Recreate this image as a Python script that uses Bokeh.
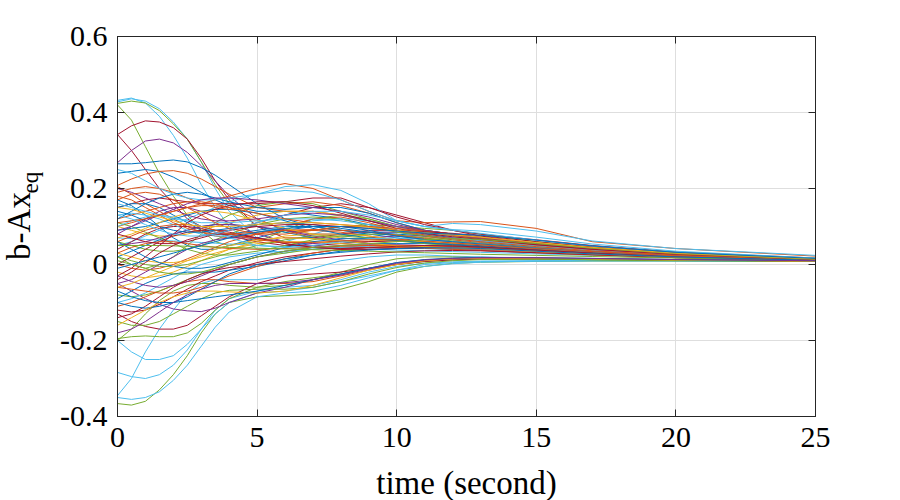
import math
from bokeh.plotting import figure
from bokeh.models import Range1d, FixedTicker, LinearAxis, Label
from bokeh.embed import file_html
from bokeh.resources import INLINE

# time samples (seconds)
T = [0, 0.5, 1, 1.5, 2, 2.5, 3, 3.5, 4, 5, 6, 7, 8, 9, 10, 11, 12, 13, 15, 17, 20, 25]

# ---- trajectories (values at the times in T) ----
s01 = [.432, .438, .425, .39, .34, .28, .21, .15, .10, .04, .03, .045, .07, .085, .085, .075, .065, .055, .04, .03, .02, .012]
s02 = [.428, .436, .43, .41, .375, .33, .27, .2, .14, .07, .06, .08, .1, .1, .09, .08, .07, .06, .045, .035, .024, .014]
s03 = [.424, .43, .425, .405, .37, .33, .27, .21, .16, .1, .085, .09, .1, .105, .1, .095, .09, .08, .06, .045, .03, .016]
s04 = [.42, .38, .31, .24, .18, .13, .09, .06, .05, .06, .09, .12, .13, .12, .1, .09, .08, .07, .05, .04, .028, .015]
s05 = [.342, .365, .378, .375, .36, .33, .28, .22, .17, .1, .07, .07, .08, .09, .09, .085, .08, .07, .055, .04, .028, .014]
s06 = [.342, .3, .25, .2, .16, .12, .1, .09, .09, .11, .13, .15, .16, .15, .13, .11, .09, .075, .055, .04, .026, .013]
s07 = [.268, .3, .325, .33, .32, .295, .26, .22, .18, .12, .09, .08, .08, .085, .085, .08, .07, .06, .045, .035, .025, .013]
s08 = [.265, .265, .268, .272, .275, .27, .255, .235, .21, .16, .12, .1, .09, .085, .08, .075, .07, .062, .048, .037, .025, .013]
s09 = [.24, .245, .25, .245, .23, .21, .19, .17, .155, .14, .14, .13, .12, .105, .09, .08, .07, .06, .047, .036, .024, .013]
s10 = [.208, .225, .238, .245, .247, .24, .225, .205, .185, .15, .14, .14, .13, .115, .1, .09, .08, .07, .052, .04, .027, .014]
s11 = [.205, .185, .16, .14, .12, .1, .085, .075, .07, .08, .1, .12, .125, .11, .09, .075, .065, .058, .045, .035, .024, .013]
s12 = [.1, .11, .12, .13, .14, .15, .16, .17, .18, .2, .213, .2, .17, .14, .115, .11, .112, .113, .095, .06, .042, .022]
s13 = [.05, .06, .075, .09, .105, .12, .135, .15, .165, .185, .205, .21, .195, .16, .115, .1, .108, .105, .088, .062, .042, .024]
s14 = [.15, .16, .17, .175, .17, .165, .16, .16, .16, .16, .165, .175, .175, .15, .125, .105, .09, .08, .065, .05, .033, .017]
s15 = [.02, 0, -.01, 0, .02, .05, .08, .11, .13, .155, .165, .16, .14, .12, .1, .085, .075, .068, .055, .043, .03, .016]
s16 = [-.366, -.37, -.36, -.33, -.29, -.24, -.18, -.13, -.1, -.085, -.082, -.078, -.065, -.045, -.02, -.005, .003, .006, .008, .009, .009, .008]
s17 = [-.345, -.3, -.23, -.17, -.12, -.075, -.05, -.04, -.04, -.04, -.03, -.01, .01, .02, .025, .025, .022, .02, .015, .012, .01, .008]
s18 = [-.35, -.355, -.35, -.335, -.305, -.265, -.215, -.165, -.125, -.085, -.075, -.07, -.055, -.035, -.015, 0, .005, .008, .009, .01, .01, .008]
s19 = [-.284, -.295, -.3, -.29, -.265, -.225, -.17, -.12, -.09, -.07, -.06, -.055, -.04, -.02, -.005, .003, .007, .009, .01, .01, .01, .008]
s20 = [-.2, -.23, -.25, -.25, -.24, -.21, -.17, -.13, -.1, -.075, -.07, -.06, -.045, -.03, -.015, -.005, .002, .006, .009, .01, .01, .008]
s21 = [-.2, -.17, -.13, -.095, -.07, -.055, -.05, -.05, -.055, -.06, -.055, -.04, -.02, 0, .015, .02, .02, .018, .015, .012, .01, .008]
s22 = [-.195, -.19, -.188, -.19, -.19, -.18, -.155, -.12, -.09, -.06, -.045, -.035, -.025, -.01, 0, .008, .012, .014, .014, .013, .011, .009]
s23 = [-.13, -.15, -.163, -.17, -.17, -.16, -.135, -.11, -.085, -.05, -.03, -.025, -.02, -.01, 0, .008, .012, .014, .015, .014, .012, .009]
s24 = [-.05, -.07, -.09, -.105, -.117, -.122, -.124, -.115, -.1, -.075, -.06, -.04, -.025, -.01, .005, .012, .015, .016, .016, .015, .013, .01]
s25 = [-.11, -.1, -.085, -.07, -.055, -.045, -.04, -.04, -.045, -.05, -.05, -.045, -.03, -.015, 0, .01, .015, .017, .016, .014, .012, .009]
s26 = [.15, .16, .16, .15, .13, .11, .09, .08, .08, .09, .1, .1, .09, .08, .07, .06, .055, .05, .04, .032, .022, .012]
s27 = [.17, .155, .13, .1, .07, .05, .04, .04, .05, .07, .09, .1, .1, .09, .075, .065, .06, .055, .045, .035, .024, .013]
s28 = [.12, .13, .14, .15, .16, .165, .165, .16, .15, .12, .09, .07, .06, .06, .065, .07, .07, .065, .05, .038, .026, .014]
s29 = [.1, .09, .08, .075, .075, .08, .09, .1, .11, .13, .14, .14, .13, .115, .1, .085, .075, .065, .05, .038, .026, .014]
s30 = [.08, .1, .12, .14, .15, .15, .14, .125, .11, .08, .06, .055, .06, .07, .075, .075, .07, .062, .048, .036, .024, .013]
s31 = [.06, .05, .04, .035, .035, .04, .05, .065, .08, .105, .12, .125, .12, .1, .085, .075, .068, .06, .047, .036, .024, .013]
s32 = [.07, .068, .066, .064, .062, .06, .058, .056, .054, .05, .047, .044, .042, .04, .038, .036, .034, .032, .028, .024, .019, .013]
s33 = [.04, .06, .08, .095, .1, .1, .095, .085, .075, .06, .05, .05, .055, .06, .062, .06, .055, .05, .04, .032, .022, .012]
s34 = [.02, .035, .05, .065, .08, .09, .1, .105, .105, .1, .085, .07, .06, .055, .055, .055, .052, .048, .04, .032, .022, .012]
s35 = [0, -.01, -.015, -.01, 0, .015, .03, .045, .06, .08, .09, .09, .085, .075, .065, .058, .052, .047, .038, .03, .021, .012]
s36 = [-.02, -.03, -.035, -.03, -.02, -.005, .01, .025, .04, .06, .075, .08, .08, .075, .065, .056, .05, .045, .036, .029, .02, .012]
s37 = [-.05, -.04, -.02, 0, .02, .04, .055, .065, .07, .07, .06, .05, .045, .045, .048, .05, .048, .044, .036, .029, .02, .012]
s38 = [-.08, -.085, -.08, -.07, -.055, -.04, -.025, -.01, 0, .02, .03, .04, .045, .05, .05, .048, .045, .042, .035, .028, .02, .011]
s39 = [-.1, -.09, -.075, -.055, -.035, -.015, 0, .01, .02, .03, .035, .04, .045, .048, .05, .048, .045, .042, .035, .028, .02, .011]
s40 = [-.12, -.125, -.12, -.105, -.085, -.065, -.045, -.03, -.015, .005, .02, .03, .04, .045, .045, .045, .042, .04, .034, .027, .019, .011]
s41 = [-.09, -.07, -.05, -.035, -.025, -.02, -.02, -.02, -.015, -.005, .01, .025, .035, .04, .042, .042, .04, .037, .031, .026, .018, .011]
s42 = [-.06, -.065, -.07, -.075, -.075, -.07, -.06, -.045, -.03, -.005, .015, .03, .04, .045, .045, .043, .04, .037, .031, .025, .018, .011]
s43 = [.03, .02, .01, .005, .005, .01, .02, .03, .04, .055, .06, .06, .055, .05, .047, .045, .043, .04, .034, .028, .02, .011]
s44 = [.05, .055, .06, .07, .08, .09, .1, .105, .105, .1, .09, .075, .065, .055, .05, .046, .043, .04, .034, .028, .02, .011]
s45 = [.11, .1, .085, .07, .055, .04, .03, .025, .025, .035, .05, .065, .075, .08, .078, .07, .062, .055, .043, .034, .023, .012]
s46 = [.13, .135, .13, .12, .105, .09, .08, .075, .075, .085, .1, .115, .12, .115, .1, .085, .072, .062, .048, .037, .025, .013]
s47 = [0, .02, .04, .06, .075, .085, .09, .09, .085, .07, .055, .045, .04, .04, .042, .045, .046, .045, .038, .031, .021, .012]
s48 = [.09, .095, .1, .11, .12, .13, .14, .145, .145, .135, .115, .095, .08, .07, .063, .058, .055, .051, .042, .034, .023, .012]
s49 = [.18, .17, .15, .13, .11, .095, .085, .08, .08, .085, .09, .092, .09, .085, .077, .068, .06, .054, .043, .034, .023, .012]
s50 = [.07, .08, .095, .11, .125, .135, .14, .14, .135, .115, .095, .08, .07, .065, .062, .06, .056, .052, .042, .034, .023, .012]
s51 = [-.03, -.045, -.055, -.06, -.055, -.045, -.03, -.015, 0, .02, .035, .045, .05, .052, .052, .05, .047, .043, .036, .029, .02, .011]
s52 = [.02, .01, 0, -.005, -.005, 0, .01, .02, .03, .05, .065, .075, .075, .07, .062, .055, .05, .046, .038, .03, .021, .012]
s53 = [.16, .15, .14, .13, .12, .115, .11, .11, .11, .115, .12, .12, .115, .105, .09, .078, .068, .06, .047, .036, .025, .013]
s54 = [-.14, -.13, -.11, -.085, -.06, -.04, -.025, -.015, -.008, 0, .008, .015, .022, .028, .033, .036, .037, .036, .031, .026, .018, .011]
s55 = [.06, .04, .02, .005, -.005, -.01, -.01, -.005, .005, .025, .045, .06, .068, .068, .063, .057, .052, .047, .038, .03, .021, .012]
s56 = [.03, .045, .055, .06, .06, .055, .05, .045, .042, .04, .042, .045, .048, .05, .05, .048, .046, .043, .036, .029, .02, .011]
s57 = [-.06, -.05, -.035, -.02, -.005, .01, .025, .04, .05, .065, .07, .068, .062, .055, .05, .047, .044, .041, .034, .028, .02, .011]
s58 = [.2, .19, .175, .16, .145, .13, .12, .115, .115, .12, .13, .135, .13, .115, .1, .087, .077, .068, .052, .04, .027, .014]
s59 = [.05, .05, .05, .05, .049, .048, .047, .046, .045, .043, .041, .039, .037, .035, .033, .031, .029, .027, .024, .021, .017, .012]
s60 = [.1, .115, .125, .13, .125, .115, .1, .085, .07, .05, .045, .05, .06, .068, .07, .066, .06, .054, .043, .034, .023, .012]
s61 = [-.04, -.02, .005, .03, .05, .065, .075, .08, .08, .07, .055, .045, .042, .044, .048, .05, .049, .046, .038, .03, .021, .012]
s62 = [.14, .13, .115, .1, .09, .085, .085, .09, .095, .105, .11, .105, .095, .085, .075, .066, .06, .054, .043, .034, .023, .012]
s63 = [.17, .185, .19, .185, .17, .15, .13, .11, .095, .08, .08, .09, .1, .1, .09, .078, .068, .06, .047, .036, .025, .013]
s64 = [.06, .075, .09, .1, .105, .105, .1, .09, .08, .065, .058, .058, .062, .065, .065, .062, .057, .052, .042, .034, .023, .012]
s65 = [-.1, -.11, -.115, -.11, -.1, -.085, -.065, -.045, -.025, 0, .015, .025, .032, .038, .042, .044, .044, .042, .035, .028, .02, .011]
s66 = [.19, .2, .205, .2, .19, .175, .16, .15, .145, .15, .16, .165, .155, .135, .11, .09, .078, .07, .055, .042, .028, .014]
s67 = [.12, .14, .16, .175, .185, .19, .185, .175, .165, .15, .145, .15, .15, .135, .11, .09, .08, .072, .056, .042, .028, .014]
s68 = [.25, .24, .22, .2, .185, .175, .17, .17, .175, .185, .195, .19, .17, .14, .115, .1, .09, .082, .064, .048, .032, .016]
s69 = [.09, .1, .115, .13, .145, .16, .17, .175, .175, .17, .16, .15, .14, .125, .105, .09, .08, .071, .055, .042, .028, .014]
s70 = [-.03, -.01, .02, .05, .08, .11, .13, .145, .155, .165, .165, .155, .135, .115, .095, .082, .073, .066, .052, .04, .027, .014]
s71 = [-.15, -.16, -.16, -.15, -.13, -.11, -.09, -.075, -.068, -.065, -.065, -.06, -.045, -.025, -.008, .004, .01, .013, .014, .013, .011, .009]
s72 = [-.16, -.14, -.12, -.1, -.085, -.075, -.07, -.07, -.072, -.075, -.07, -.055, -.035, -.015, 0, .01, .015, .017, .017, .015, .012, .009]
s73 = [-.07, -.085, -.095, -.1, -.1, -.095, -.09, -.085, -.08, -.07, -.055, -.04, -.025, -.01, .005, .013, .017, .019, .018, .016, .013, .01]
s74 = [-.18, -.17, -.15, -.125, -.1, -.08, -.065, -.055, -.05, -.05, -.048, -.04, -.028, -.012, .003, .012, .016, .018, .018, .016, .013, .01]
s75 = [.11, .115, .12, .13, .14, .15, .155, .155, .15, .135, .12, .11, .105, .1, .095, .088, .08, .072, .056, .043, .028, .014]
s76 = [.08, .07, .06, .055, .055, .06, .07, .08, .09, .1, .105, .105, .1, .095, .09, .086, .082, .076, .06, .046, .03, .015]
s77 = [.13, .12, .105, .09, .08, .075, .075, .08, .09, .11, .13, .14, .14, .13, .115, .1, .092, .088, .072, .054, .035, .017]
s78 = [.01, 0, -.01, -.02, -.025, -.025, -.02, -.01, 0, .02, .035, .045, .05, .055, .06, .065, .068, .066, .055, .043, .029, .014]
s79 = [.15, .145, .135, .125, .115, .105, .1, .1, .1, .105, .11, .11, .105, .098, .09, .084, .078, .072, .058, .045, .03, .015]
s80 = [-.01, 0, .01, .02, .03, .04, .05, .06, .07, .085, .095, .1, .1, .095, .088, .083, .08, .077, .064, .049, .032, .016]

x_ticks = [0, 5, 10, 15, 20, 25]
x_tick_labels = ["0", "5", "10", "15", "20", "25"]
y_ticks = [-0.4, -0.2, 0, 0.2, 0.4, 0.6]
y_tick_labels = ["-0.4", "-0.2", "0", "0.2", "0.4", "0.6"]

# ---- styling ----
C = {"b": "#0072BD", "o": "#D95319", "y": "#EDB120", "p": "#7E2F8E",
     "g": "#77AC30", "c": "#4DBEEE", "r": "#A2142F"}
series = [s01, s02, s03, s04, s05, s06, s07, s08, s09, s10, s11, s12, s13,
          s14, s15, s16, s17, s18, s19, s20, s21, s22, s23, s24, s25, s26,
          s27, s28, s29, s30, s31, s32, s33, s34, s35, s36, s37, s38, s39,
          s40, s41, s42, s43, s44, s45, s46, s47, s48, s49, s50, s51, s52,
          s53, s54, s55, s56, s57, s58, s59, s60, s61, s62, s63, s64, s65,
          s66, s67, s68, s69, s70, s71, s72, s73, s74, s75, s76, s77, s78,
          s79, s80]
color_keys = ("ccggrrpbbooocrg" + "gccccggrpob"
              + "boypgcrboypgcrboypgcrboypgcrboypgcrbo" + "ob"
              + "obcprgybporcgyb")
for s in series:
    assert len(s) == len(T)

FONT = "Liberation Serif"
AX = "#262626"

p = figure(width=900, height=500, output_backend="svg", toolbar_location=None,
           x_range=Range1d(0, 25), y_range=Range1d(-0.4, 0.6),
           min_border_left=117, min_border_right=85, min_border_top=36,
           min_border_bottom=84, background_fill_color="white",
           border_fill_color="white")
p.outline_line_color = AX
p.outline_line_width = 1

for i, s in enumerate(series):
    col = C[color_keys[i % len(color_keys)]]
    p.line(T, s, line_color=col, line_width=1.0)

for ax, ticks, labels in ((p.xaxis[0], x_ticks, x_tick_labels),
                          (p.yaxis[0], y_ticks, y_tick_labels)):
    ax.ticker = FixedTicker(ticks=ticks)
    ax.major_label_overrides = {t: l for t, l in zip(ticks, labels)}
    ax.major_label_text_font = FONT
    ax.major_label_text_font_size = "30px"
    ax.major_label_text_color = "black"
    ax.major_tick_in = 7
    ax.major_tick_out = 0
    ax.minor_tick_line_color = None
    ax.axis_line_color = AX
    ax.major_tick_line_color = AX
p.xaxis[0].major_label_standoff = 11
p.yaxis[0].major_label_standoff = 10

for loc, ticks in (("above", x_ticks), ("right", y_ticks)):
    ax = LinearAxis(ticker=FixedTicker(ticks=ticks), major_tick_in=7,
                    major_tick_out=0, minor_tick_line_color=None,
                    major_label_text_font_size="1px",
                    major_label_text_color=None, axis_line_color=AX,
                    major_tick_line_color=AX, major_label_standoff=0)
    p.add_layout(ax, loc)

p.xgrid.ticker = FixedTicker(ticks=x_ticks)
p.ygrid.ticker = FixedTicker(ticks=y_ticks)
p.grid.grid_line_color = "#dedede"
p.grid.grid_line_width = 1

# x axis title, held by the bottom side panel (so it is not clipped)
p.add_layout(Label(x=12.5, y=-0.576, text="time (second)", text_font=FONT,
                   text_font_size="33px", text_align="center",
                   text_baseline="middle", text_color="black"), "below")

# y axis title "b-Ax" with subscript "eq"; positioned in data units, held by
# the roomier right side panel so the frame keeps its left edge
p.add_layout(Label(x=-3.54, y=0.012, text="b-Ax", angle=math.pi / 2,
                   text_font=FONT, text_font_size="33px", text_align="left",
                   text_baseline="alphabetic", text_color="black"), "right")
p.add_layout(Label(x=-3.11, y=0.187, text="eq", angle=math.pi / 2,
                   text_font=FONT, text_font_size="23px", text_align="left",
                   text_baseline="alphabetic", text_color="black"), "right")

open("out.html", "w").write(file_html(p, INLINE))
